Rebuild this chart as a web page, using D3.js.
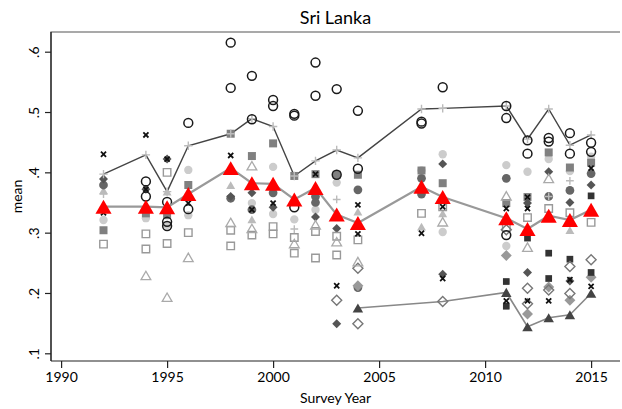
<!DOCTYPE html>
<meta charset="utf-8">
<style>
body { margin: 0; background: #fff; }
text { font-family: Lato, "Open Sans", sans-serif; fill: #000; }
</style>
<body>
<script src="https://d3js.org/d3.v7.min.js"></script>
<script>

// survey years and the three connected series
var years = [1992,1994,1995,1996,1998,1999,2000,2001,2002,2003,2004,2007,2008,2011,2012,2013,2014,2015];
var meanVals  = [.343,.343,.342,.364,.407,.382,.381,.355,.374,.330,.316,.376,.359,.324,.306,.328,.321,.338];
var upperVals = [.397,.429,.368,.444,.464,.489,.476,.394,.419,.437,.424,.505,.506,.510,.455,.505,.445,.462];
var lowerYears = [2004,2008,2011,2012,2013,2014,2015];
var lowerVals  = [.175,.186,.201,.144,.159,.164,.1995];
var lowerMarkYears = [2004,2011,2012,2013,2014,2015];

// scattered group means, [year, value]
var hollowCircle = [[1994,.385],[1994,.360],[1995,.351],[1995,.318],[1995,.311],[1996,.482],[1996,.339],
  [1998,.615],[1998,.540],[1999,.560],[1999,.488],[2000,.520],[2000,.510],[2001,.497],[2001,.494],[2001,.342],
  [2002,.582],[2002,.527],[2003,.538],[2003,.396],[2004,.502],[2004,.406],[2007,.484],[2007,.481],[2008,.541],
  [2011,.510],[2011,.490],[2011,.296],[2012,.453],[2012,.431],[2013,.457],[2013,.451],[2014,.465],[2014,.431],
  [2015,.449],[2015,.434]];
var blackX = [[1992,.430],[1992,.333],[1994,.462],[1994,.372],[1995,.422],[1996,.349],[1998,.428],[1999,.338],
  [2000,.349],[2002,.397],[2003,.212],[2004,.346],[2004,.298],[2007,.299],[2008,.343],[2008,.224],[2011,.340],
  [2011,.187],[2012,.359],[2012,.340],[2012,.187],[2013,.187],[2014,.222],[2015,.407],[2015,.211]];
var lightPlus = [[1992,.364],[2001,.306],[2003,.355],[2013,.360],[2014,.386]];
var graySquare = [[1992,.304],[1994,.332],[1995,.329],[1996,.379],[1998,.464],[1999,.427],[2000,.448],[2001,.394],
  [2002,.397],[2003,.396],[2004,.396],[2007,.403],[2008,.382],[2011,.349],[2012,.359],[2013,.433],[2014,.408],[2015,.416]];
var hollowSquare = [[1992,.281],[1994,.298],[1994,.273],[1995,.400],[1995,.282],[1996,.300],[1998,.304],[1998,.278],
  [1999,.296],[2000,.310],[2000,.298],[2001,.292],[2001,.266],[2002,.302],[2002,.258],[2003,.294],[2003,.263],
  [2004,.288],[2007,.332],[2008,.343],[2011,.309],[2012,.325],[2013,.340],[2014,.333],[2015,.317]];
var lightCircle = [[1992,.321],[1994,.324],[1995,.313],[1996,.404],[1996,.329],[1999,.349],[2000,.409],[2000,.331],
  [2001,.322],[2002,.338],[2003,.383],[2007,.403],[2008,.430],[2008,.301],[2011,.412],[2011,.278],[2012,.401],
  [2013,.422],[2014,.402],[2015,.426]];
var darkCircle = [[1992,.379],[1998,.357],[1999,.338],[2000,.366],[2002,.360],[2002,.350],[2004,.371],[2004,.209],
  [2007,.390],[2007,.364],[2011,.390],[2013,.360],[2014,.370],[2015,.398]];
var darkDiamond = [[1992,.389],[1994,.372],[1995,.422],[1998,.360],[1999,.366],[2000,.342],[2002,.326],[2003,.307],
  [2003,.149],[2008,.414],[2008,.231],[2012,.349],[2012,.234],[2013,.401],[2014,.350],[2014,.220],[2015,.379]];
var hollowDiamond = [[2003,.188],[2004,.241],[2004,.149],[2008,.186],[2011,.305],[2012,.208],[2012,.182],
  [2013,.205],[2014,.244],[2014,.199],[2015,.255]];
var hollowTriangle = [[1994,.229],[1995,.193],[1996,.259],[1998,.317],[1999,.411],[1999,.307],[2001,.282],
  [2002,.313],[2003,.285],[2004,.252],[2008,.318],[2011,.361],[2012,.276],[2013,.390]];
var lightTriangle = [[1992,.370],[1995,.368],[1998,.379],[1999,.322],[2004,.335],[2007,.310],[2008,.332],[2014,.304]];
var darkSquare = [[2011,.219],[2011,.178],[2012,.291],[2013,.266],[2013,.224],[2014,.256],[2015,.361],[2015,.234]];
var grayDiamond = [[2004,.212],[2011,.262],[2012,.165],[2013,.210],[2014,.188],[2015,.226]];

var xTicks = [1990,1995,2000,2005,2010,2015];
var yTicks = [.1,.2,.3,.4,.5,.6];

var width = 622, height = 409;
// plot frame (note: "top" is reserved on window, so use frame* names)
var frameL = 51, frameR = 620, frameT = 32, frameB = 361;

var x = d3.scaleLinear().domain([1990, 2015]).range([61.1, 591.1]);
var y = d3.scaleLinear().domain([.1, .6]).range([353.3, 51.7]);

// custom symbol shapes
var symDiamond = { draw: function(c, s) {
  var r = Math.sqrt(s) / 2 * Math.SQRT2;
  c.moveTo(0, -r); c.lineTo(r, 0); c.lineTo(0, r); c.lineTo(-r, 0); c.closePath();
}};
var symX = { draw: function(c, s) {
  var r = Math.sqrt(s) / 2;
  c.moveTo(-r, -r); c.lineTo(r, r); c.moveTo(r, -r); c.lineTo(-r, r);
}};
var symPlus = { draw: function(c, s) {
  var r = Math.sqrt(s) / 2;
  c.moveTo(-r, 0); c.lineTo(r, 0); c.moveTo(0, -r); c.lineTo(0, r);
}};
var symTri = { draw: function(c, s) {
  // equilateral triangle centred on its box
  var w = Math.sqrt(s), h = w * Math.sqrt(3) / 2;
  c.moveTo(0, -h / 2); c.lineTo(w / 2, h / 2); c.lineTo(-w / 2, h / 2); c.closePath();
}};

var svg = d3.select("body").append("svg")
    .attr("width", width)
    .attr("height", height);

svg.append("text")
    .attr("x", (frameL + frameR) / 2)
    .attr("y", 24)
    .attr("text-anchor", "middle")
    .style("font-size", "18px")
    .text("Sri Lanka");

// frame
svg.append("path")
    .attr("d", "M" + frameL + "," + frameB + "V" + frameT + "H" + frameR)
    .attr("fill", "none")
    .attr("stroke", "#555")
    .attr("stroke-width", 1.2);

var xAxis = svg.append("g")
    .attr("transform", "translate(0," + frameB + ")")
    .call(d3.axisBottom(x).tickValues(xTicks).tickFormat(d3.format("d")).tickSize(7).tickPadding(4));
xAxis.select(".domain").attr("d", "M" + frameL + ",0H" + frameR);

var yAxis = svg.append("g")
    .attr("transform", "translate(" + frameL + ",0)")
    .call(d3.axisLeft(y).tickValues(yTicks).tickFormat(function(d) { return d3.format(".1f")(d).replace(/^0/, ""); }).tickSize(6));
yAxis.select(".domain").attr("d", "M0," + frameT + "V" + frameB);
yAxis.selectAll(".tick text")
    .attr("x", 0).attr("dy", 0)
    .attr("transform", "translate(-12,0) rotate(-90)")
    .attr("text-anchor", "middle");

svg.selectAll(".domain, .tick line").attr("stroke", "#222").attr("stroke-width", 1.2);
svg.selectAll(".tick text").style("font-size", "14px").style("font-family", "Lato, sans-serif").attr("fill", "#000");

svg.append("text")
    .attr("x", (frameL + frameR) / 2)
    .attr("y", 403)
    .attr("text-anchor", "middle")
    .style("font-size", "14px")
    .text("Survey Year");

svg.append("text")
    .attr("transform", "translate(22," + ((frameT + frameB) / 2) + ") rotate(-90)")
    .attr("text-anchor", "middle")
    .style("font-size", "14px")
    .text("mean");

var line = d3.line().x(function(d) { return x(d[0]); }).y(function(d) { return y(d[1]); });

function drawLine(xs, vs, color, w) {
  svg.append("path")
      .datum(d3.zip(xs, vs))
      .attr("d", line)
      .attr("fill", "none")
      .attr("stroke", color)
      .attr("stroke-width", w);
}

function drawPoints(data, type, size, fill, stroke, sw) {
  svg.append("g").selectAll("path")
      .data(data)
      .enter()
      .append("path")
      .attr("transform", function(d) { return "translate(" + x(d[0]) + "," + y(d[1]) + ")"; })
      .attr("d", d3.symbol().type(type).size(size))
      .attr("fill", fill)
      .attr("stroke", stroke)
      .attr("stroke-width", sw);
}

drawLine(lowerYears, lowerVals, "#888", 1.6);
drawLine(years, upperVals, "#444", 1.4);

drawPoints(lightTriangle, symTri, 80, "#bbb", "none", 0);
drawPoints(lightCircle, d3.symbolCircle, 55, "#ccc", "none", 0);
drawPoints(darkCircle, d3.symbolCircle, 60, "#666", "none", 0);
drawPoints(graySquare, d3.symbolSquare, 64, "#808080", "none", 0);
drawPoints(grayDiamond, symDiamond, 60, "#999", "none", 0);
drawPoints(darkDiamond, symDiamond, 40, "#555", "none", 0);
drawPoints(darkSquare, d3.symbolSquare, 45, "#333", "none", 0);
drawPoints(hollowSquare, d3.symbolSquare, 56, "none", "#999", 1.4);
drawPoints(hollowDiamond, symDiamond, 50, "none", "#777", 1.4);
drawPoints(hollowTriangle, symTri, 95, "none", "#aaa", 1.3);
drawPoints(lightPlus, symPlus, 60, "none", "#bbb", 1.4);
drawPoints(years.map(function(yr, i) { return [yr, upperVals[i]]; }), symPlus, 70, "none", "#bbb", 1.4);
drawPoints(hollowCircle, d3.symbolCircle, 62, "none", "#1a1a1a", 1.5);
drawPoints(blackX, symX, 26, "none", "#111", 1.8);
drawPoints(lowerMarkYears.map(function(yr) { return [yr, lowerVals[lowerYears.indexOf(yr)]]; }), symTri, 110, "#444", "none", 0);

drawLine(years, meanVals, "#999", 2.2);
drawPoints(years.map(function(yr, i) { return [yr, meanVals[i]]; }), symTri, 260, "#ff0000", "none", 0);

</script>
